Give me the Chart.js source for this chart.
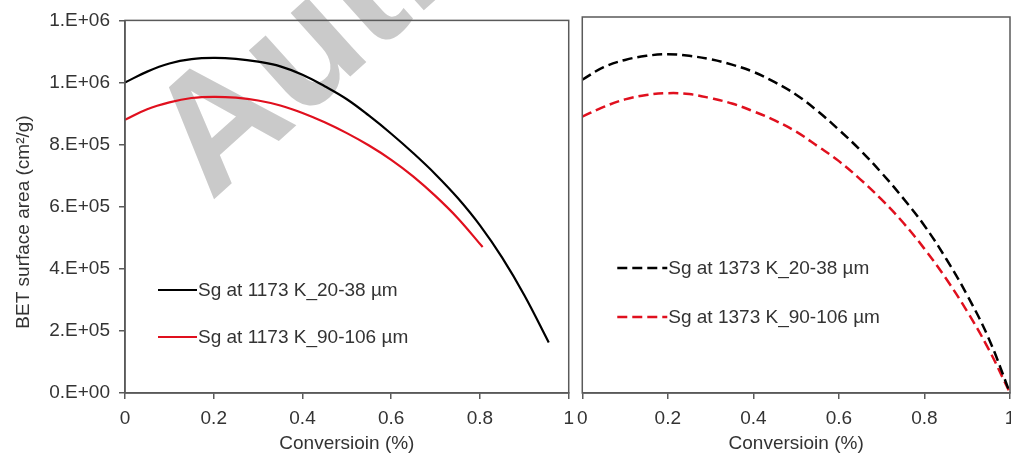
<!DOCTYPE html>
<html>
<head>
<meta charset="utf-8">
<script src="https://cdn.jsdelivr.net/npm/chart.js@4.4.0/dist/chart.umd.min.js"></script>
<style>
  html, body { margin: 0; padding: 0; background: #fff; }
  body { width: 1011px; height: 457px; overflow: hidden; position: relative; }
  canvas { position: absolute; top: 0; }
  #left { left: 0; }
  #right { left: 569px; }
</style>
</head>
<body>
<canvas id="left" width="582" height="457"></canvas>
<canvas id="right" width="461" height="457"></canvas>
<script>
// conversion (x) values
const xLeftBlack = [0, 0.05, 0.1, 0.15, 0.2, 0.25, 0.3, 0.35, 0.4, 0.45, 0.5, 0.55, 0.6, 0.65, 0.7, 0.75, 0.8, 0.85, 0.9, 0.955];
const xLeftRed = [0, 0.05, 0.1, 0.15, 0.2, 0.25, 0.3, 0.35, 0.4, 0.45, 0.5, 0.55, 0.6, 0.65, 0.7, 0.75, 0.806];
const xRight = [0, 0.05, 0.1, 0.15, 0.2, 0.25, 0.3, 0.35, 0.4, 0.45, 0.5, 0.55, 0.6, 0.65, 0.7, 0.75, 0.8, 0.85, 0.9, 0.95, 1];

// BET surface area (cm2/g)
const sg1173Small = [1.000e6, 1.035e6, 1.061e6, 1.075e6, 1.079e6, 1.076e6, 1.067e6, 1.052e6, 1.025e6, 0.988e6,
  0.946e6, 0.893e6, 0.835e6, 0.772e6, 0.704e6, 0.628e6, 0.540e6, 0.436e6, 0.315e6, 0.163e6];
const sg1173Large = [0.880e6, 0.914e6, 0.936e6, 0.950e6, 0.954e6, 0.951e6, 0.942e6, 0.926e6, 0.902e6, 0.872e6,
  0.837e6, 0.797e6, 0.751e6, 0.697e6, 0.634e6, 0.563e6, 0.470e6];
const sg1373Small = [1.000e6, 1.040e6, 1.063e6, 1.076e6, 1.081e6, 1.076e6, 1.065e6, 1.048e6, 1.025e6, 0.992e6,
  0.952e6, 0.900e6, 0.840e6, 0.775e6, 0.702e6, 0.622e6, 0.534e6, 0.430e6, 0.312e6, 0.175e6, 0];
const sg1373Large = [0.882e6, 0.913e6, 0.937e6, 0.951e6, 0.957e6, 0.954e6, 0.941e6, 0.924e6, 0.899e6, 0.870e6,
  0.834e6, 0.788e6, 0.740e6, 0.682e6, 0.617e6, 0.544e6, 0.460e6, 0.366e6, 0.260e6, 0.140e6, 0];

const xTickLabels = ['0', '0.2', '0.4', '0.6', '0.8', '1'];
const yTickLabels = ['0.E+00', '2.E+05', '4.E+05', '6.E+05', '8.E+05', '1.E+06', '1.E+06'];

const labels1173 = ['Sg at 1173 K_20-38 µm', 'Sg at 1173 K_90-106 µm'];
const labels1373 = ['Sg at 1373 K_20-38 µm', 'Sg at 1373 K_90-106 µm'];
const xTitle = 'Conversioin (%)';
const yTitle = 'BET surface area (cm²/g)';

const BLACK = '#000000';
const RED = '#e0101e';
const AXIS = '#5a5a5a';
const TEXT = '#333333';

Chart.defaults.font.family = '"Liberation Sans", Arial, sans-serif';
Chart.defaults.font.size = 19;
Chart.defaults.color = TEXT;

function toPoints(xs, ys) {
    return xs.map((x, i) => ({ x: x, y: ys[i] }));
}

// frame round the plot area, like the excel box
const framePlugin = {
    id: 'frame',
    afterDraw(chart) {
        const a = chart.chartArea;
        const ctx = chart.ctx;
        ctx.save();
        ctx.strokeStyle = AXIS;
        ctx.lineWidth = 1.5;
        ctx.strokeRect(a.left, a.top, a.right - a.left, a.bottom - a.top);
        ctx.restore();
    }
};

// legend drawn inside the plot area
const inlineLegend = {
    id: 'inlineLegend',
    afterDraw(chart, args, opts) {
        const ctx = chart.ctx;
        const x0 = chart.chartArea.left + opts.offset;
        ctx.save();
        ctx.font = '19px "Liberation Sans", Arial, sans-serif';
        ctx.textBaseline = 'middle';
        chart.data.datasets.forEach((ds, i) => {
            const y = opts.ys[i];
            ctx.strokeStyle = ds.borderColor;
            ctx.lineWidth = ds.borderWidth;
            ctx.setLineDash(ds.borderDash || []);
            ctx.beginPath();
            ctx.moveTo(x0, y);
            ctx.lineTo(x0 + opts.sample, y);
            ctx.stroke();
            ctx.setLineDash([]);
            ctx.fillStyle = TEXT;
            ctx.fillText(ds.label, x0 + opts.sample + 1, y + 1);
        });
        ctx.restore();
    }
};

// y title and the grey watermark
const leftExtras = {
    id: 'leftExtras',
    beforeDatasetsDraw(chart) {
        const ctx = chart.ctx;
        ctx.save();
        ctx.translate(211, 202);
        ctx.rotate(-42 * Math.PI / 180);
        ctx.font = 'bold 165px "Liberation Sans", Arial, sans-serif';
        ctx.fillStyle = '#cacaca';
        ctx.fillText('Author Manuscript', 0, 0);
        ctx.restore();
    },
    afterDraw(chart) {
        const ctx = chart.ctx;
        ctx.save();
        ctx.translate(24, 222);
        ctx.rotate(-Math.PI / 2);
        ctx.font = '19px "Liberation Sans", Arial, sans-serif';
        ctx.fillStyle = TEXT;
        ctx.textAlign = 'center';
        ctx.textBaseline = 'middle';
        ctx.fillText(yTitle, 0, 0);
        ctx.restore();
    }
};

function xScale() {
    return {
        type: 'linear',
        min: 0,
        max: 1,
        ticks: {
            stepSize: 0.2,
            padding: 8,
            maxRotation: 0,
            autoSkip: false,
            callback: (v, i) => xTickLabels[i]
        },
        grid: { drawOnChartArea: false, tickLength: 6, color: AXIS, lineWidth: 1.5 },
        border: { color: AXIS, width: 1.5 },
        title: { display: true, text: xTitle, padding: { top: 0, bottom: 2 } },
        afterFit: (s) => { s.height = 64; }
    };
}

function yScale(show) {
    const scale = {
        display: show,
        min: 0,
        max: 1.2e6,
        ticks: {
            stepSize: 2e5,
            padding: 9,
            callback: (v, i) => yTickLabels[i]
        },
        grid: { drawOnChartArea: false, tickLength: 6, color: AXIS, lineWidth: 1.5 },
        border: { color: AXIS, width: 1.5 }
    };
    if (show) scale.afterFit = (s) => { s.width = 125; };
    return scale;
}

const lineElements = { point: { radius: 0 }, line: { tension: 0.4, fill: false } };

new Chart(document.getElementById('left'), {
    type: 'line',
    data: {
        datasets: [
            { label: labels1173[0], data: toPoints(xLeftBlack, sg1173Small), borderColor: BLACK, borderWidth: 2.2 },
            { label: labels1173[1], data: toPoints(xLeftRed, sg1173Large), borderColor: RED, borderWidth: 2.2 }
        ]
    },
    options: {
        responsive: false,
        animation: false,
        layout: { padding: { left: 0, right: 0, top: 17, bottom: 0 } },
        elements: lineElements,
        scales: { x: xScale(), y: yScale(true) },
        plugins: {
            legend: { display: false },
            tooltip: { enabled: false },
            inlineLegend: { offset: 33, sample: 39, ys: [290, 337] }
        }
    },
    plugins: [leftExtras, framePlugin, inlineLegend]
});

new Chart(document.getElementById('right'), {
    type: 'line',
    data: {
        datasets: [
            { label: labels1373[0], data: toPoints(xRight, sg1373Small), borderColor: BLACK, borderWidth: 2.5, borderDash: [10, 5] },
            { label: labels1373[1], data: toPoints(xRight, sg1373Large), borderColor: RED, borderWidth: 2.5, borderDash: [10, 5] }
        ]
    },
    options: {
        responsive: false,
        animation: false,
        layout: { padding: { left: 0, right: 20, top: 17, bottom: 0 } },
        elements: lineElements,
        scales: { x: xScale(), y: yScale(false) },
        plugins: {
            legend: { display: false },
            tooltip: { enabled: false },
            inlineLegend: { offset: 35, sample: 50, ys: [268, 317] }
        }
    },
    plugins: [framePlugin, inlineLegend]
});
</script>
</body>
</html>
